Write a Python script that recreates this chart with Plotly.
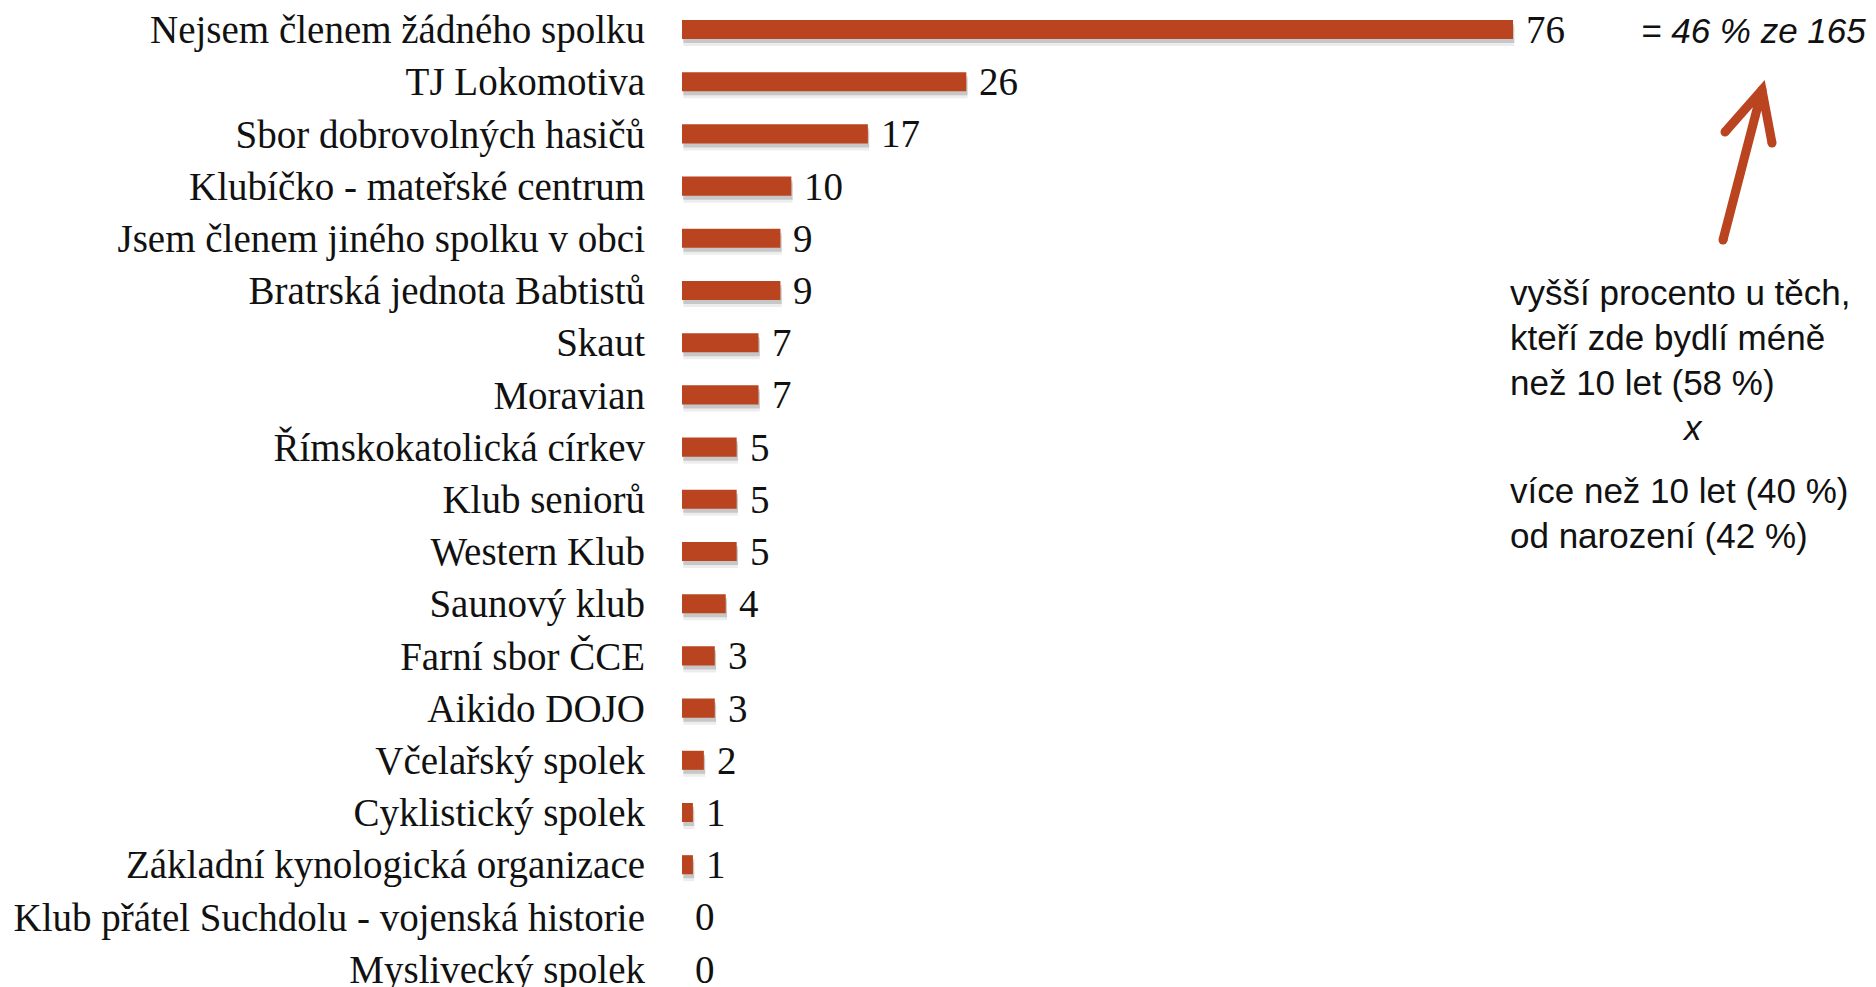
import plotly.graph_objects as go

categories = [
    "Nejsem členem žádného spolku",
    "TJ Lokomotiva",
    "Sbor dobrovolných hasičů",
    "Klubíčko - mateřské centrum",
    "Jsem členem jiného spolku v obci",
    "Bratrská jednota Babtistů",
    "Skaut",
    "Moravian",
    "Římskokatolická církev",
    "Klub seniorů",
    "Western Klub",
    "Saunový klub",
    "Farní sbor ČCE",
    "Aikido DOJO",
    "Včelařský spolek",
    "Cyklistický spolek",
    "Základní kynologická organizace",
    "Klub přátel Suchdolu - vojenská historie",
    "Myslivecký spolek",
]
values = [76, 26, 17, 10, 9, 9, 7, 7, 5, 5, 5, 4, 3, 3, 2, 1, 1, 0, 0]

top_note = "= 46 % ze 165"
side_lines = [
    "vyšší procento u těch,",
    "kteří zde bydlí méně",
    "než 10 let (58 %)",
]
x_mark = "x"
side_lines2 = [
    "více než 10 let (40 %)",
    "od narození (42 %)",
]

# page has an 8px body margin, so the figure is sized to fit the window
W, H = 1868, 979
BAR = "#BA4420"
SERIF = "Liberation Serif, Times New Roman, serif"
SANS = "Liberation Sans, Arial, sans-serif"
TXT = "#111111"
SERIF_SIZE = 39

x0_px = 674.0
unit_px = 831.0 / 76.0
xmax = 100.0
dom_end = (x0_px + xmax * unit_px) / W
row0 = 21.5
pitch = 52.2
ytop = -row0 / pitch
ybot = (H - row0) / pitch

fig = go.Figure()
bw = 0.365
px_u = 1.0 / pitch  # one pixel in category units
# soft shadow layers
for shift, alpha in [(7, 0.07), (4, 0.16)]:
    fig.add_trace(go.Bar(
        y=categories, x=values, orientation="h", width=bw, base=0.12,
        offset=-bw / 2 + shift * px_u,
        marker=dict(color="rgba(0,0,0,%s)" % alpha, line=dict(width=0)),
        hoverinfo="skip", showlegend=False,
    ))
fig.add_trace(go.Bar(
    y=categories, x=values, orientation="h", width=bw,
    offset=-bw / 2, marker=dict(color=BAR, line=dict(width=0)),
    showlegend=False,
))

for c, v in zip(categories, values):
    fig.add_annotation(
        x=v, y=c, xref="x", yref="y", text=str(v), showarrow=False,
        xanchor="left", yanchor="middle", xshift=11,
        font=dict(family=SERIF, size=SERIF_SIZE, color=TXT),
    )


def px(x, y):
    return x / W, 1 - y / H


xx, yy = px(1860, 23)
fig.add_annotation(
    x=xx, y=yy, xref="paper", yref="paper", text="<i>" + top_note + "</i>",
    showarrow=False, xanchor="right", yanchor="middle",
    font=dict(family=SANS, size=35, color=TXT),
)

for t, ly in zip(side_lines, [284, 329, 375]):
    xx, yy = px(1500, ly)
    fig.add_annotation(x=xx, y=yy, xref="paper", yref="paper", text=t, showarrow=False,
                       xanchor="left", yanchor="middle",
                       font=dict(family=SANS, size=35, color=TXT))
xx, yy = px(1684, 419)
fig.add_annotation(x=xx, y=yy, xref="paper", yref="paper", text="<i>" + x_mark + "</i>",
                   showarrow=False, xanchor="center", yanchor="middle",
                   font=dict(family=SANS, size=35, color=TXT))
for t, ly in zip(side_lines2, [482, 527]):
    xx, yy = px(1500, ly)
    fig.add_annotation(x=xx, y=yy, xref="paper", yref="paper", text=t, showarrow=False,
                       xanchor="left", yanchor="middle",
                       font=dict(family=SANS, size=35, color=TXT))

# arrow: shaft + open chevron head
head = (1754, 82)
tail = (1715, 232)
w1 = (1717, 124)
w2 = (1764, 135)


def P(p):
    x, y = px(*p)
    return "%.5f,%.5f" % (x, y)


path = "M %s L %s M %s L %s L %s" % (P(tail), P(head), P(w1), P(head), P(w2))
shapes = [dict(type="path", path=path, xref="paper", yref="paper",
               line=dict(color=BAR, width=9))]
r = 4.5
for (cx, cy) in [tail, w1, w2, head]:
    x_a, y_a = px(cx - r, cy - r)
    x_b, y_b = px(cx + r, cy + r)
    shapes.append(dict(type="circle", xref="paper", yref="paper",
                       x0=x_a, x1=x_b, y0=y_b, y1=y_a,
                       fillcolor=BAR, line=dict(width=0)))

fig.update_layout(
    width=W, height=H, margin=dict(l=0, r=0, t=0, b=0, autoexpand=False),
    plot_bgcolor="white", paper_bgcolor="white",
    barmode="overlay",
    shapes=shapes,
    xaxis=dict(range=[0, xmax], domain=[x0_px / W, dom_end], visible=False,
               fixedrange=True, automargin=False),
    yaxis=dict(type="category", categoryorder="array", categoryarray=categories,
               range=[ybot, ytop], showgrid=False, zeroline=False,
               showline=False, ticks="", ticklabelstandoff=36, automargin=False,
               tickfont=dict(family=SERIF, size=SERIF_SIZE, color=TXT)),
    showlegend=False,
)

fig.write_html("out.html")
